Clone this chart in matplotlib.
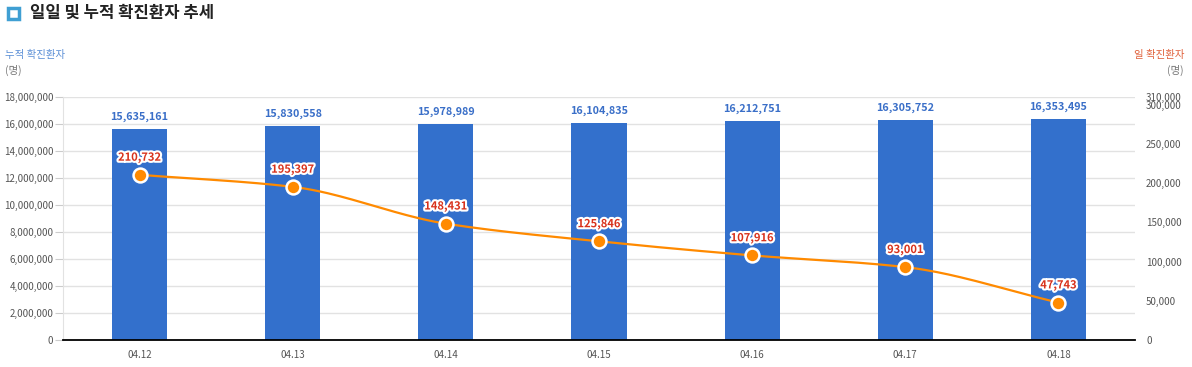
import numpy as np
import matplotlib
matplotlib.use("Agg")
import matplotlib.pyplot as plt
import matplotlib.patheffects as pe
from matplotlib.patches import Rectangle

plt.rcParams['font.family'] = ['Noto Sans CJK KR', 'DejaVu Sans']

dates = ["04.12", "04.13", "04.14", "04.15", "04.16", "04.17", "04.18"]
cumulative = [15635161, 15830558, 15978989, 16104835, 16212751, 16305752, 16353495]
daily = [210732, 195397, 148431, 125846, 107916, 93001, 47743]
left_ticks = list(range(0, 18000001, 2000000))
right_ticks = [0, 50000, 100000, 150000, 200000, 250000, 300000, 310000]

BAR = "#3370cc"
LINE = "#ff8a00"
RED = "#d8321c"
GRID = "#e2e2e2"
TICK = "#555555"

fig = plt.figure(figsize=(11.92, 3.67), dpi=100)
ax = fig.add_axes([63/1192, 1-340/367, (1135-63)/1192, (340-97)/367])
x = np.arange(len(dates))
ax.bar(x, cumulative, width=0.36, color=BAR, zorder=2)
ax.set_xlim(-0.5, len(dates)-0.5)
ax.set_ylim(0, 18000000)
ax.set_yticks(left_ticks)
ax.set_yticklabels([f"{v:,}" for v in left_ticks])
ax.set_xticks(x)
ax.set_xticklabels(dates)
ax.grid(axis='y', color=GRID, lw=1, zorder=0)
for s in ['top', 'right']:
    ax.spines[s].set_visible(False)
ax.spines['left'].set_color(GRID)
ax.spines['bottom'].set_color('black')
ax.spines['bottom'].set_linewidth(1.3)
ax.tick_params(axis='y', length=6, color='#cccccc', labelsize=7, labelcolor=TICK, pad=1)
ax.tick_params(axis='x', length=0, labelsize=7, labelcolor=TICK, pad=7)
for xi, v in zip(x, cumulative):
    ax.annotate(f"{v:,}", (xi, v), xytext=(0, 5), textcoords='offset points',
                ha='center', va='bottom', color='#3a6fc8', fontsize=7.8, fontweight='bold')

ax2 = ax.twinx()
ax2.set_ylim(0, 310000)
ax2.set_yticks(right_ticks)
ax2.set_yticklabels([f"{v:,}" for v in right_ticks])
ax2.tick_params(axis='y', length=0, labelsize=7, labelcolor=TICK, pad=8)
for s in ['top', 'right', 'left', 'bottom']:
    ax2.spines[s].set_visible(False)

# monotone cubic (Fritsch-Carlson) rendering of the line
xs = x.astype(float)
ys = np.array(daily, dtype=float)
h = np.diff(xs)
d = np.diff(ys) / h
m = np.zeros_like(ys)
m[0], m[-1] = d[0], d[-1]
for i in range(1, len(ys)-1):
    if d[i-1]*d[i] <= 0:
        m[i] = 0
    else:
        m[i] = 2/(1/d[i-1] + 1/d[i])
xx, yy = [], []
for i in range(len(xs)-1):
    t = np.linspace(0, 1, 40)
    h00 = 2*t**3 - 3*t**2 + 1
    h10 = t**3 - 2*t**2 + t
    h01 = -2*t**3 + 3*t**2
    h11 = t**3 - t**2
    xx.extend(xs[i] + t*h[i])
    yy.extend(h00*ys[i] + h10*h[i]*m[i] + h01*ys[i+1] + h11*h[i]*m[i+1])
ax2.plot(xx, yy, color=LINE, lw=1.6, zorder=3)
ax2.plot(xs, ys, 'o', ms=10, color=LINE, mec='white', mew=1.8, zorder=4)
for xi, v in zip(xs, ys):
    ax2.annotate(f"{int(v):,}", (xi, v), xytext=(0, 8), textcoords='offset points',
                 ha='center', va='bottom', color=RED, fontsize=8, fontweight='bold',
                 path_effects=[pe.withStroke(linewidth=3, foreground='white')], zorder=5)

# title
fig.patches.append(Rectangle((8/1192, 1-19/367), 11/1192, 11/367, transform=fig.transFigure,
                             facecolor='white', edgecolor='#3f9fd3', lw=2.5))
fig.text(30/1192, 1-13/367, "일일 및 누적 확진환자 추세", fontsize=12, fontweight='bold',
         color='#222222', va='center', ha='left')
fig.text(5/1192, 1-55/367, "누적 확진환자", fontsize=7.5, color='#5b8fd6', va='center', ha='left')
fig.text(5/1192, 1-70/367, "(명)", fontsize=7.5, color='#777777', va='center', ha='left')
fig.text(1184/1192, 1-55/367, "일 확진환자", fontsize=7.5, color='#e0603a', va='center', ha='right')
fig.text(1184/1192, 1-70/367, "(명)", fontsize=7.5, color='#777777', va='center', ha='right')

fig.savefig("out.png", dpi=100)
